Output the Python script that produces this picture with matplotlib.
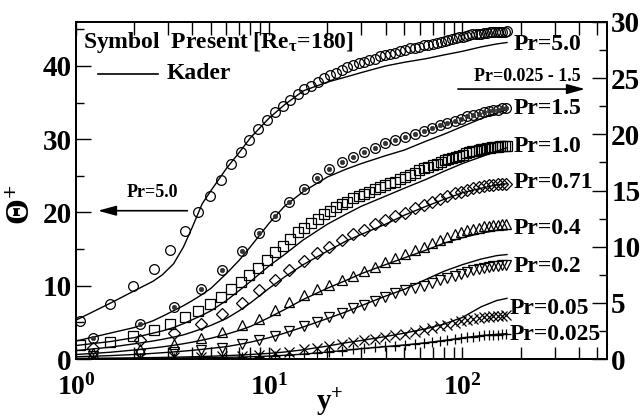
import matplotlib
matplotlib.use("Agg")
import matplotlib.pyplot as plt

plt.rcParams['font.family'] = ['Liberation Serif', 'DejaVu Serif']
plt.rcParams['font.weight'] = 'bold'
plt.rcParams['mathtext.fontset'] = 'custom'
plt.rcParams['mathtext.rm'] = 'Liberation Serif:bold'
plt.rcParams['mathtext.it'] = 'Liberation Serif:bold'
plt.rcParams['mathtext.bf'] = 'Liberation Serif:bold'

# ---------------- data ----------------
# fine DNS grid (Pr=5.0 and Pr=1.0)
yplus_a = [1.05, 1.5, 1.98, 2.52, 3.07, 3.65, 4.27, 4.92, 5.62, 6.35, 7.14, 7.87, 8.76, 9.77,
           10.7, 11.8, 12.8, 14.1, 15.2, 16.5, 17.8, 19.2, 20.6, 22.2, 23.8, 25.4, 27.1, 29.0,
           30.9, 33.0, 35.1, 37.4, 39.8, 42.3, 44.9, 47.6, 50.5, 53.5, 56.6, 59.8, 63.1, 66.5,
           70.0, 73.5, 77.1, 80.8, 84.6, 88.4, 92.3, 96.3, 100.3, 104.4, 108.5, 112.7, 116.9,
           121.2, 125.5, 129.8, 134.2, 138.6, 143.0, 147.5, 152.0, 156.5, 161.0, 165.5, 170.0]
theta_pr5_0 = [5.2, 7.5, 9.9, 12.3, 14.9, 17.5, 20.0, 22.3, 24.5, 26.6, 28.3, 29.9, 31.4, 32.6,
               33.7, 34.6, 35.4, 36.2, 36.8, 37.3, 37.8, 38.3, 38.7, 39.1, 39.4, 39.8, 40.1, 40.4,
               40.6, 40.8, 41.0, 41.3, 41.5, 41.7, 41.8, 42.0, 42.2, 42.4, 42.5, 42.6, 42.8, 42.9,
               43.0, 43.2, 43.3, 43.4, 43.6, 43.7, 43.8, 43.9, 44.0, 44.1, 44.2, 44.3, 44.3,
               44.4, 44.4, 44.5, 44.5, 44.6, 44.6, 44.6, 44.7, 44.7, 44.7, 44.7, 44.8]
theta_pr1_0 = [1.25, 1.55, 2.05, 2.6, 3.1, 3.7, 4.3, 4.9, 5.55, 6.2, 6.85, 7.45, 8.1, 8.8,
               9.5, 10.1, 10.7, 11.3, 11.7, 12.1, 12.5, 12.9, 13.2, 13.5, 13.8, 14.0, 14.3, 14.5,
               14.7, 14.9, 15.1, 15.3, 15.5, 15.7, 15.8, 16.0, 16.2, 16.4, 16.6, 16.8, 17.0, 17.1,
               17.3, 17.4, 17.5, 17.7, 17.8, 17.9, 18.0, 18.1, 18.2, 18.3, 18.4, 18.5, 18.5,
               18.6, 18.7, 18.7, 18.8, 18.8, 18.9, 18.9, 18.9, 19.0, 19.0, 19.0, 19.0]

# coarser grid (other Pr)
yplus_b = [1.23, 2.15, 3.23, 4.43, 5.73, 7.22, 8.9, 10.7, 12.7, 15.2, 17.7, 20.5, 23.8, 27.0,
           30.8, 35.2, 39.9, 45.0, 50.7, 57.1, 63.1, 69.7, 76.2, 83.3, 91.0, 98.5, 105.7, 113.5,
           121.3, 128.8, 136.7, 144.2, 152.4, 160.4, 169.0]
theta_pr1_5 = [1.85, 3.1, 4.65, 6.2, 7.9, 9.6, 11.2, 12.7, 14.0, 15.1, 16.1, 16.9, 17.5, 18.0,
               18.4, 18.8, 19.2, 19.5, 19.8, 20.0, 20.3, 20.6, 20.8, 21.0, 21.2, 21.4, 21.6, 21.7,
               21.8, 22.0, 22.1, 22.2, 22.2, 22.3, 22.3]
theta_pr0_71 = [0.95, 1.65, 2.3, 3.1, 4.0, 5.0, 6.1, 7.0, 7.9, 8.7, 9.4, 10.0, 10.6, 11.1,
                11.5, 12.0, 12.4, 12.7, 13.0, 13.4, 13.7, 13.95, 14.2, 14.5, 14.75, 14.9, 15.05,
                15.2, 15.3, 15.4, 15.45, 15.5, 15.55, 15.6, 15.6]
theta_pr0_4 = [0.55, 0.9, 1.35, 1.9, 2.4, 3.0, 3.6, 4.4, 5.1, 5.7, 6.2, 6.6, 7.0, 7.4,
               7.8, 8.2, 8.6, 9.0, 9.35, 9.7, 10.0, 10.3, 10.6, 10.85, 11.1, 11.3, 11.45,
               11.6, 11.7, 11.8, 11.85, 11.9, 11.95, 12.0, 12.0]
theta_pr0_2 = [0.3, 0.45, 0.6, 0.8, 1.0, 1.3, 1.65, 2.05, 2.45, 2.95, 3.3, 3.7, 4.1, 4.5,
               4.85, 5.2, 5.55, 5.85, 6.1, 6.3, 6.5, 6.75, 7.0, 7.2, 7.4, 7.6, 7.75,
               7.9, 8.0, 8.1, 8.2, 8.25, 8.3, 8.35, 8.4]
theta_pr0_05 = [0.05, 0.1, 0.15, 0.2, 0.25, 0.3, 0.4, 0.5, 0.65, 0.85, 1.0, 1.15, 1.35, 1.5,
                1.65, 1.8, 1.95, 2.1, 2.25, 2.4, 2.55, 2.75, 2.9, 3.05, 3.2, 3.35, 3.45,
                3.55, 3.65, 3.7, 3.75, 3.8, 3.85, 3.85, 3.9]
theta_pr0_025 = [0.03, 0.05, 0.08, 0.1, 0.13, 0.17, 0.22, 0.28, 0.35, 0.45, 0.55, 0.65, 0.75, 0.85,
                 0.95, 1.05, 1.12, 1.2, 1.27, 1.34, 1.4, 1.5, 1.6, 1.7, 1.8, 1.88, 1.95,
                 2.0, 2.05, 2.1, 2.13, 2.15, 2.18, 2.2, 2.2]

# Kader correlation (lines)
yplus_k = [1.0, 1.5, 2.0, 2.5, 2.8, 3.2, 3.6, 4.0, 4.5, 5.0, 6.0, 7.0, 8.0, 10, 12, 15, 20, 25,
           30, 40, 50, 65, 80, 100, 125, 150, 170]
kader_pr5_0 = [5.3, 7.6, 9.3, 10.6, 11.5, 13.0, 15.3, 18.0, 21.2, 23.0, 26.0, 28.2, 30.2, 32.9,
               34.7, 36.6, 37.8, 38.5, 39.1, 40.0, 40.5, 41.0, 41.5, 42.0, 42.6, 43.0, 43.2]
kader_pr1_5 = [1.6, 2.3, 2.8, 3.4, 3.8, 4.3, 4.75, 5.2, 5.75, 6.3, 7.6, 8.8, 10.0, 12.1, 13.6,
               14.9, 16.2, 16.9, 17.4, 18.1, 18.6, 19.4, 20.0, 20.7, 21.4, 21.9, 22.2]
kader_pr1_0 = [1.2, 1.55, 1.9, 2.3, 2.5, 2.8, 3.15, 3.5, 3.9, 4.3, 5.2, 6.1, 6.9, 8.3, 9.3,
               10.6, 12.0, 12.9, 13.6, 14.5, 15.2, 16.0, 16.7, 17.4, 18.0, 18.5, 18.8]
kader_pr0_71 = [0.75, 1.05, 1.35, 1.6, 1.75, 1.95, 2.15, 2.4, 2.7, 3.0, 3.6, 4.3, 5.0, 6.3, 7.3,
                8.4, 9.6, 10.5, 11.1, 12.0, 12.8, 13.6, 14.2, 14.8, 15.2, 15.5, 15.6]
kader_pr0_4 = [0.4, 0.6, 0.8, 0.98, 1.08, 1.22, 1.36, 1.5, 1.68, 1.85, 2.2, 2.55, 2.9, 3.7, 4.4,
               5.3, 6.3, 7.0, 7.6, 8.4, 9.0, 9.7, 10.3, 10.8, 11.2, 11.45, 11.5]
kader_pr0_2 = [0.2, 0.3, 0.4, 0.5, 0.56, 0.63, 0.7, 0.77, 0.86, 0.95, 1.1, 1.3, 1.5, 1.9, 2.3,
               2.85, 3.6, 4.2, 4.75, 5.6, 6.2, 7.1, 7.8, 8.4, 8.9, 9.2, 9.3]
kader_pr0_05 = [0.05, 0.075, 0.1, 0.125, 0.14, 0.16, 0.18, 0.2, 0.22, 0.25, 0.3, 0.35, 0.4, 0.5,
                0.62, 0.82, 1.15, 1.45, 1.65, 2.0, 2.3, 2.7, 3.1, 3.7, 4.65, 5.2, 5.4]
kader_pr0_025 = [0.025, 0.04, 0.05, 0.06, 0.07, 0.08, 0.09, 0.1, 0.11, 0.125, 0.15, 0.17, 0.2,
                 0.26, 0.33, 0.43, 0.62, 0.78, 0.92, 1.1, 1.25, 1.45, 1.65, 1.88, 2.08, 2.2, 2.25]

right_labels = ["Pr=5.0", "Pr=1.5", "Pr=1.0", "Pr=0.71", "Pr=0.4", "Pr=0.2", "Pr=0.05", "Pr=0.025"]
left_yticks = [0, 10, 20, 30, 40]
right_yticks = [0, 5, 10, 15, 20, 25, 30]
xticks = [1, 10, 100]
xtick_labels = [r"$10^{0}$", r"$10^{1}$", r"$10^{2}$"]

# ---------------- figure ----------------
fig = plt.figure(figsize=(6.42, 4.18), dpi=100)
ax = fig.add_axes([76/642, 1-359/418, 531/642, 337/418])
ax.set_xscale('log')
ax.set_xlim(1, 560)
ax.set_ylim(0, 46)
ax2 = ax.twinx()
ax2.set_ylim(0, 30)

lw = 1.0
mew = 0.9
# Pr = 5.0 on left axis
ax.plot(yplus_k, kader_pr5_0, color='black', lw=lw)
ax.plot(yplus_a, theta_pr5_0, ls='none', marker='o', ms=7, mfc='none', mec='black', mew=mew)

# others on right axis
for vals in [kader_pr1_5, kader_pr1_0, kader_pr0_71, kader_pr0_4, kader_pr0_2, kader_pr0_05, kader_pr0_025]:
    ax2.plot(yplus_k, vals, color='black', lw=lw)

ax2.plot(yplus_b, theta_pr1_5, ls='none', marker='o', ms=7, mfc='none', mec='black', mew=mew)
ax2.plot(yplus_b, theta_pr1_5, ls='none', marker='o', ms=3.2, mfc='#333333', mec='#333333', mew=0.5)
ax2.plot(yplus_a, theta_pr1_0, ls='none', marker='s', ms=6.5, mfc='none', mec='black', mew=mew)
ax2.plot(yplus_b, theta_pr0_71, ls='none', marker='D', ms=6.5, mfc='none', mec='black', mew=mew)
ax2.plot(yplus_b, theta_pr0_4, ls='none', marker='^', ms=7.5, mfc='none', mec='black', mew=mew)
ax2.plot(yplus_b, theta_pr0_2, ls='none', marker='v', ms=7.5, mfc='none', mec='black', mew=mew)
ax2.plot(yplus_b, theta_pr0_05, ls='none', marker='x', ms=6.5, mec='black', mew=mew)
ax2.plot(yplus_b, theta_pr0_025, ls='none', marker='+', ms=7.5, mec='black', mew=mew)

# ticks
ax.set_xticks(xticks)
ax.set_xticklabels(xtick_labels)
ax.set_yticks(left_yticks)
ax.set_yticks([5, 15, 25, 35, 45], minor=True)
ax2.set_yticks(right_yticks)
ax2.set_yticks([2.5, 7.5, 12.5, 17.5, 22.5, 27.5], minor=True)
ax.tick_params(axis='x', which='both', direction='in', top=True, length=9, width=1, labelsize=20, pad=11)
ax.tick_params(axis='y', which='major', direction='in', length=11, width=1, labelsize=21, pad=3)
ax.tick_params(axis='y', which='minor', direction='in', length=6, width=1)
ax2.tick_params(axis='y', which='major', direction='in', length=11, width=1, labelsize=21, pad=3)
ax2.tick_params(axis='y', which='minor', direction='in', length=6, width=1)
for a in (ax, ax2):
    for s in a.spines.values():
        s.set_linewidth(1.3)
    for lab in a.get_yticklabels() + a.get_xticklabels():
        lab.set_fontweight('bold')

# labels
fig.text(22/642, 1-205/418, "Θ$^{+}$", rotation=90, fontsize=24, fontweight='bold',
         ha='center', va='center')
fig.text(330/642, 1-402/418, "y$^{+}$", fontsize=21, fontweight='bold', ha='center', va='center')

# legend-like annotation
ax.text(0.013, 0.938, r"Symbol  Present [Re$_{τ}$=180]", transform=ax.transAxes,
        fontsize=17, fontweight='bold', ha='left', va='center')
ax.plot([0.041, 0.154], [0.846, 0.846], color='black', lw=1.2, transform=ax.transAxes)
ax.text(0.171, 0.846, "Kader", transform=ax.transAxes, fontsize=17, fontweight='bold',
        ha='left', va='center')

# arrows
ax.annotate("", xy=(0.036, 0.44), xytext=(0.215, 0.44), xycoords='axes fraction',
            arrowprops=dict(arrowstyle='-|>,head_length=1.1,head_width=0.3', color='black', lw=1.2))
ax.text(0.143, 0.493, "Pr=5.0", transform=ax.transAxes, fontsize=13, fontweight='bold',
        ha='center', va='center')
ax.annotate("", xy=(0.964, 0.801), xytext=(0.714, 0.801), xycoords='axes fraction',
            arrowprops=dict(arrowstyle='-|>,head_length=1.1,head_width=0.3', color='black', lw=1.2))
ax.text(0.849, 0.837, "Pr=0.025 - 1.5", transform=ax.transAxes, fontsize=13, fontweight='bold',
        ha='center', va='center')

# right-side Pr labels
label_pos = [(514, 45), (514, 108), (514, 146), (514, 183), (514, 229), (514, 267), (510, 308), (510, 335)]
for txt, (px, py) in zip(right_labels, label_pos):
    ax.text((px-76)/531, (359-py)/337, txt, transform=ax.transAxes, fontsize=17,
            fontweight='bold', ha='left', va='center')

fig.savefig("out.png", dpi=100)
